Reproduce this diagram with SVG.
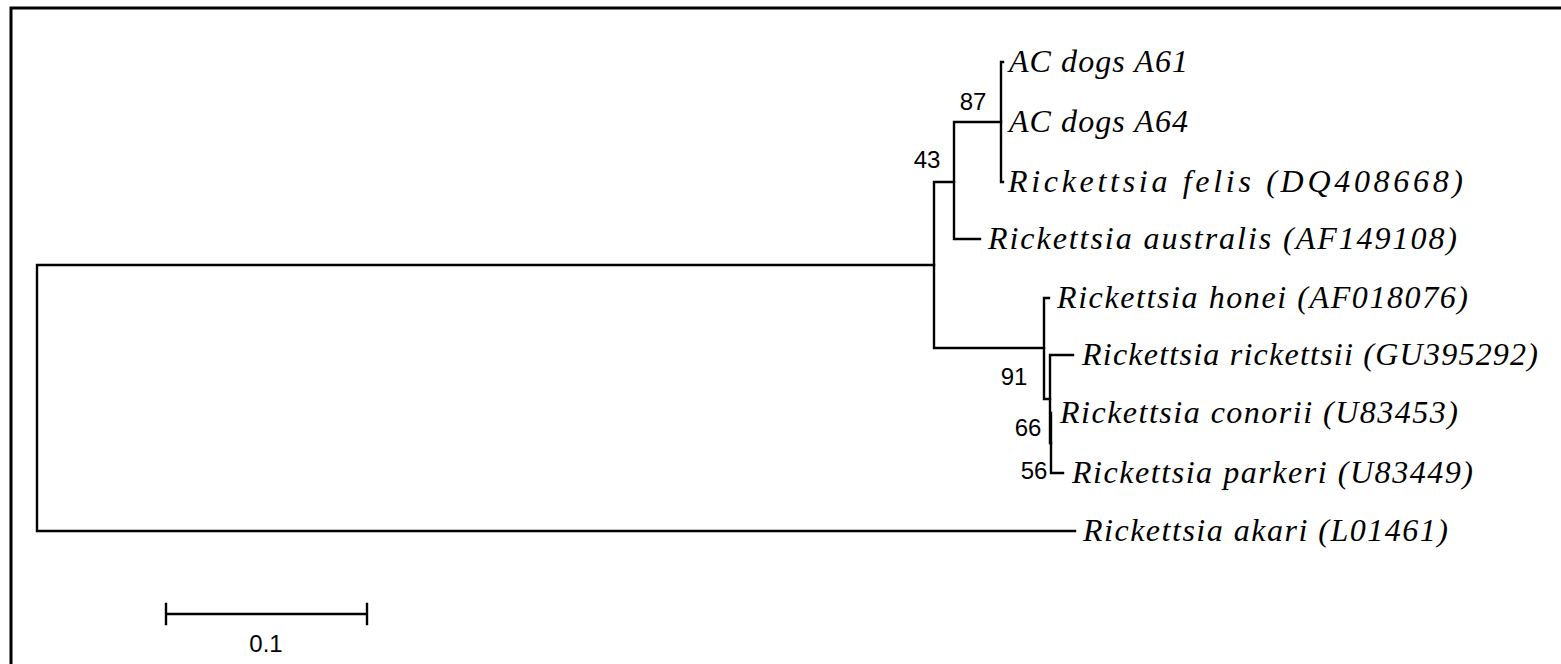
<svg xmlns="http://www.w3.org/2000/svg" width="1561" height="664" viewBox="0 0 1561 664">
<style>
.br{fill:none;stroke:#000;stroke-width:2.4;stroke-linecap:square}
.tx{font-family:"Liberation Serif","Times New Roman",serif;font-style:italic;font-size:32px;fill:#000}
.bs{font-family:"Liberation Sans",Arial,sans-serif;font-size:24px;fill:#000}
</style>
<rect width="1561" height="664" fill="#fff"/>
<path d="M11,664 V8 H1561" fill="none" stroke="#000" stroke-width="3"/>
<g id="connectors">
<path class="br" d="M37,265 V531 M37,265 H934 M37,531 H1075"/>
<path class="br" d="M934,182 V348 M934,182 H954 M934,348 H1044"/>
<path class="br" d="M954,122 V239 M954,122 H1001 M954,239 H980"/>
<path class="br" d="M1001,62 V182 M1001,62 H1003 M1001,182 H1003"/>
<path class="br" d="M1044,298 V399 M1044,298 H1049 M1044,399 H1050"/>
<path class="br" d="M1050,355 V443 M1050,355 H1073 M1050,443 H1051"/>
<path class="br" d="M1051,413 V473 M1051,473 H1063"/>
</g>
<g id="n_a61"><text class="tx" x="1009" y="72" textLength="179" lengthAdjust="spacing">AC dogs A61</text></g>
<g id="n_a64"><text class="tx" x="1009" y="132" textLength="179" lengthAdjust="spacing">AC dogs A64</text></g>
<g id="n_felis"><text class="tx" x="1008" y="192" textLength="455" lengthAdjust="spacing">Rickettsia felis (DQ408668)</text></g>
<g id="n_australis"><text class="tx" x="988" y="249" textLength="469" lengthAdjust="spacing">Rickettsia australis (AF149108)</text></g>
<g id="n_honei"><text class="tx" x="1057" y="308" textLength="411" lengthAdjust="spacing">Rickettsia honei (AF018076)</text></g>
<g id="n_rickettsii"><text class="tx" x="1082" y="365" textLength="456" lengthAdjust="spacing">Rickettsia rickettsii (GU395292)</text></g>
<g id="n_conorii"><text class="tx" x="1060" y="423" textLength="398" lengthAdjust="spacing">Rickettsia conorii (U83453)</text></g>
<g id="n_parkeri"><text class="tx" x="1072" y="483" textLength="401" lengthAdjust="spacing">Rickettsia parkeri (U83449)</text></g>
<g id="n_akari"><text class="tx" x="1083" y="541" textLength="365" lengthAdjust="spacing">Rickettsia akari (L01461)</text></g>
<g id="bootstrap">
<text class="bs" x="973" y="110" text-anchor="middle">87</text>
<text class="bs" x="927" y="168" text-anchor="middle">43</text>
<text class="bs" x="1014" y="385" text-anchor="middle">91</text>
<text class="bs" x="1028" y="436" text-anchor="middle">66</text>
<text class="bs" x="1034" y="479" text-anchor="middle">56</text>
</g>
<g id="scale">
<path class="br" d="M166,614 H367 M166,604 V624 M367,604 V624"/>
<text class="bs" x="266" y="652" text-anchor="middle">0.1</text>
</g>
</svg>
